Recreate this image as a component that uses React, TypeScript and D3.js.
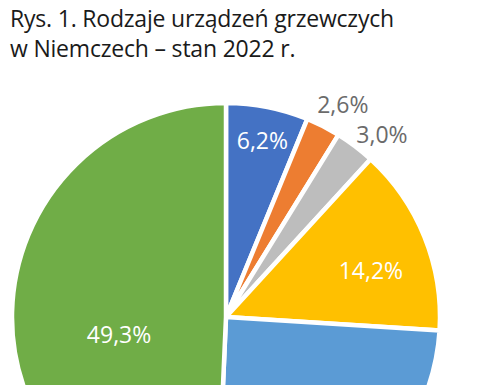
import * as d3 from "d3";

const categories = ["A", "B", "C", "D", "E", "F"];
const shares = [6.2, 2.6, 3.0, 14.2, 24.7, 49.3];
const sliceColors = ["#4472c4", "#ed7d31", "#bdbdbd", "#ffc000", "#5b9bd5", "#70ad47"];
const titleLines = ["Rys. 1. Rodzaje urządzeń grzewczych", "w Niemczech – stan 2022 r."];

// label placement: radius factor, nudge, inside? (light blue label falls below the picture)
const labelLayout = [
    { k: 0.83, dx: 2, dy: 0, inside: true, show: true },
    { k: 1.1, dx: 10, dy: 0, inside: false, show: true },
    { k: 1.1, dx: 14, dy: 8, inside: false, show: true },
    { k: 0.7, dx: 6, dy: 12, inside: true, show: true },
    { k: 0.75, dx: 0, dy: 0, inside: true, show: false },
    { k: 0.5, dx: 0, dy: 22, inside: true, show: true },
];

function App() {
    const width = 477
    const height = 385
    const cx = 226
    const cy = 317
    const radius = 214

    const pie = d3.pie<number>().sort(null).value((d) => d)
    const slices = pie(shares)
    const arc = d3.arc<d3.PieArcDatum<number>>().innerRadius(0).outerRadius(radius)

    const fmt = (v: number) => v.toFixed(1).replace(".", ",") + "%"

    return (
        <svg width={width} height={height} style={{ position: "absolute", left: 0, top: 0, background: "#ffffff" }}>
            {titleLines.map((line, i) => (
                <text key={i} x={10} y={27 + i * 30} fontFamily="Open Sans" fontSize={23} letterSpacing={-0.2} fill="#1a1a1a">{line}</text>
            ))}
            <g transform={`translate(${cx},${cy})`}>
                {slices.map((s, i) => (
                    <path key={categories[i]} d={arc(s)!} fill={sliceColors[i]} stroke="#ffffff" strokeWidth={4.5} strokeLinejoin="round"/>
                ))}
                {slices.map((s, i) => {
                    if (!labelLayout[i].show) return null
                    const mid = (s.startAngle + s.endAngle) / 2
                    const r = radius * labelLayout[i].k
                    const x = Math.sin(mid) * r + labelLayout[i].dx
                    const y = -Math.cos(mid) * r + labelLayout[i].dy
                    return (
                        <text key={categories[i]} x={x} y={y} textAnchor="middle" dominantBaseline="middle"
                            fontFamily="Open Sans" fontSize={23}
                            fill={labelLayout[i].inside ? "#ffffff" : "#6b6b6b"}>{fmt(s.data)}</text>
                    )
                })}
            </g>
        </svg>
    )
}

export default App;
